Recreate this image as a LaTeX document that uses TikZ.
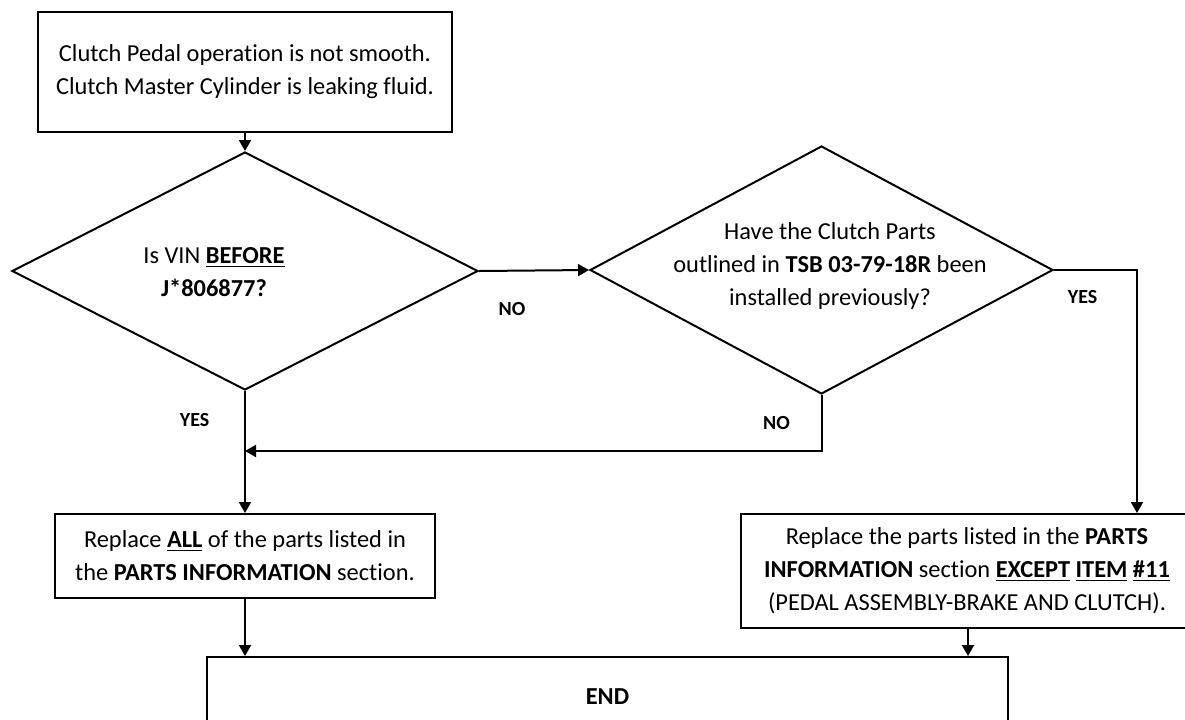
\documentclass[tikz,border=0pt]{standalone}
\usepackage{fontspec}
\setmainfont{Carlito}[Ligatures = {NoCommon, NoRare}]
\usetikzlibrary{shapes.geometric, arrows.meta}

\tikzset{
	stepbox/.style = {draw, line width = 1pt, align = center, inner sep = 0pt},
	decision/.style = {draw, diamond, line width = 1pt, inner sep = 0pt},
	lbl/.style = {font = \bfseries}
}

\begin{document}
\begin{tikzpicture}[x = 0.5pt, y = -0.5pt, font = \fontsize{12.2}{16.5}\selectfont]

	\useasboundingbox (0, 0) rectangle (1185, 719);
	\clip (0, 0) rectangle (1185, 719);

	% Boxes and decisions

	\node [stepbox, minimum width = 207pt, minimum height = 60pt] (start) at (245, 72)
		{Clutch Pedal operation is not smooth.\\Clutch Master Cylinder is leaking fluid.};

	\node [decision, minimum width = 233pt, minimum height = 119pt] (vin) at (245, 271) {};
	\node [align = center] (vintext) at (214, 272)
		{Is VIN \underline{\textbf{BEFORE}}\\\textbf{J*806877?}};

	\node [decision, minimum width = 231.5pt, minimum height = 124pt] (tsb) at (821.5, 270) {};
	\node [align = center] (tsbtext) at (830, 266)
		{Have the Clutch Parts\\outlined in \textbf{TSB 03-79-18R} been\\installed previously?};

	\node [stepbox, minimum width = 190pt, minimum height = 42pt] (all) at (245, 556)
		{Replace \underline{\textbf{ALL}} of the parts listed in\\the \textbf{PARTS INFORMATION} section.};

	\node [stepbox, minimum width = 226pt, minimum height = 57pt] (except) at (967, 571)
		{Replace the parts listed in the \textbf{PARTS}\\\textbf{INFORMATION} section \underline{\textbf{EXCEPT}} \underline{\textbf{ITEM}} \underline{\textbf{\#11}}\\(PEDAL ASSEMBLY-BRAKE AND CLUTCH).};

	\node [stepbox, minimum width = 400.5pt, minimum height = 40pt] (end) at (607.5, 697) {\textbf{END}};

	% Turning points

	\coordinate (join) at (245, 451);
	\coordinate (yesturn) at (1137, 270);

	% Connectors

	\begin{scope}[line width = 1pt, -{Triangle[length = 5.5pt, width = 6pt]}]

		\draw (start) -- (vin);
		\draw (vin.east) -- node [lbl, below = 12pt, pos = 0.3] {NO} (tsb.west);
		\draw (vin.south) -- node [lbl, left = 14pt, pos = 0.24] {YES} (all.north);
		\draw (tsb.south) |- node [lbl, left = 12pt, pos = 0.25] {NO} (join);
		\draw (tsb.east) -- (yesturn) -- node [lbl, left = 16pt, pos = 0.11] {YES} (yesturn |- except.north);
		\draw (all.south) -- (all.south |- end.north);
		\draw ([xshift = 0.5pt] except.south) -- ([xshift = 0.5pt] except.south |- end.north);

	\end{scope}

\end{tikzpicture}
\end{document}
